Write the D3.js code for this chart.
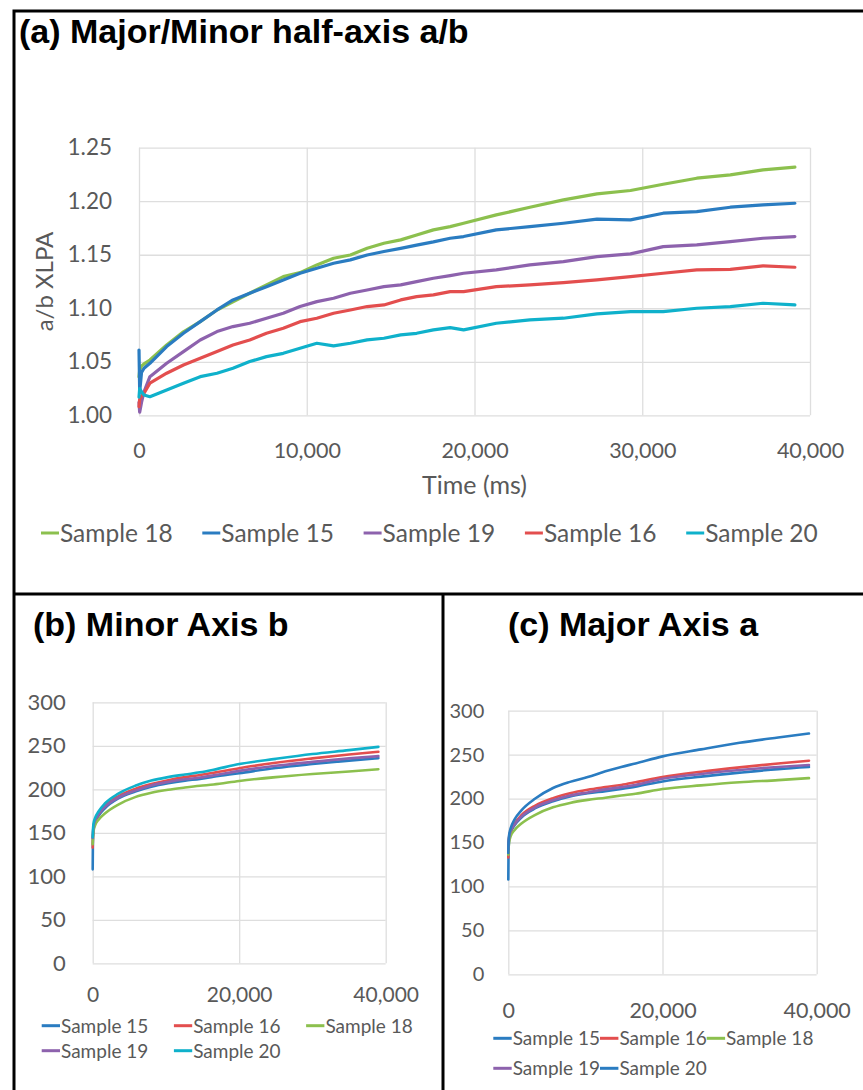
<!DOCTYPE html>
<html><head><meta charset="utf-8">
<script src="https://cdn.jsdelivr.net/npm/d3@7"></script>
<style>
body{margin:0;background:#fff;}
</style></head>
<body><svg id="chart" width="863" height="1090"></svg>
<script>
// ---------- Panel (a) data: a/b ratio vs time (ms) ----------
const timeA = [0, 40, 150, 300, 650, 1650, 2650, 3650, 4650, 5600, 6600, 7600, 8600, 9600, 10600, 11600, 12600, 13600, 14600, 15600, 16550, 17550, 18550, 19350, 21300, 23300, 25300, 27300, 29300, 31250, 33250, 35250, 37200, 39100];
const abSample18 = [1.036, 1.042, 1.046, 1.048, 1.0517, 1.0657, 1.078, 1.0875, 1.0984, 1.106, 1.114, 1.1218, 1.1296, 1.1333, 1.1405, 1.1467, 1.1498, 1.156, 1.1607, 1.1639, 1.1685, 1.1732, 1.1763, 1.1794, 1.1872, 1.1944, 1.2012, 1.2069, 1.21, 1.2159, 1.2215, 1.2246, 1.2293, 1.2318];
const abSample15 = [1.061, 1.022, 1.04, 1.044, 1.0486, 1.0642, 1.0766, 1.0875, 1.0984, 1.1078, 1.114, 1.1202, 1.1265, 1.1327, 1.1374, 1.142, 1.1452, 1.1498, 1.153, 1.156, 1.159, 1.162, 1.1654, 1.167, 1.1732, 1.1763, 1.1794, 1.1832, 1.1826, 1.1888, 1.1903, 1.1944, 1.1966, 1.1981];
const abSample19 = [1.012, 1.003, 1.012, 1.022, 1.0361, 1.0486, 1.0595, 1.0704, 1.0782, 1.0829, 1.086, 1.0907, 1.0953, 1.1016, 1.1062, 1.1093, 1.114, 1.1171, 1.1202, 1.1218, 1.1249, 1.128, 1.1305, 1.1327, 1.1358, 1.1405, 1.1436, 1.1483, 1.1508, 1.1576, 1.1592, 1.1623, 1.1654, 1.167];
const abSample16 = [1.008, 1.015, 1.018, 1.0206, 1.03, 1.0393, 1.047, 1.0533, 1.0595, 1.0657, 1.0704, 1.0766, 1.0813, 1.0875, 1.0907, 1.0953, 1.0984, 1.1016, 1.1031, 1.1078, 1.1109, 1.1125, 1.1156, 1.1156, 1.1202, 1.1218, 1.124, 1.1265, 1.1296, 1.1327, 1.1358, 1.1364, 1.1396, 1.1383];
const abSample20 = [1.017, 1.025, 1.022, 1.019, 1.0174, 1.0237, 1.0299, 1.0361, 1.0393, 1.0439, 1.0502, 1.0548, 1.0579, 1.0626, 1.0673, 1.0648, 1.0673, 1.0704, 1.072, 1.0751, 1.0766, 1.0798, 1.0819, 1.0798, 1.086, 1.0891, 1.0907, 1.0947, 1.0969, 1.0969, 1.1, 1.1016, 1.1047, 1.1031];
const yTicksA = [1.00, 1.05, 1.10, 1.15, 1.20, 1.25];
const xTicksA = [0, 10000, 20000, 30000, 40000];

// ---------- Panel (b) data: minor axis b ----------
const timeBC = [0, 30, 100, 300, 800, 1700, 3500, 5800, 8000, 10300, 12600, 14650, 16500, 20000, 25000, 30000, 35000, 39000];
const bSample15 = [108, 140, 152, 161, 169.5, 178.5, 189.5, 197.5, 203, 207, 210, 212, 214.5, 218.5, 224.5, 229, 233, 235.8];
const bSample16 = [133, 145, 155, 163, 171.5, 181, 192, 200.5, 206, 210.5, 214, 216.5, 219, 224.3, 230.5, 235.5, 240, 243.1];
const bSample18 = [137, 143, 151, 158, 165, 172.5, 182.5, 191, 196, 199.5, 202, 204, 205.5, 209.6, 214, 217.5, 220.5, 223];
const bSample19 = [144, 149, 157, 164, 171, 180, 190.5, 198.5, 204.5, 208.5, 211.5, 213.5, 216, 221.2, 227, 231.5, 235.5, 238.1];
const bSample20 = [145, 152, 160, 166.5, 174.5, 184, 195, 204, 210, 214, 217, 219.5, 222.5, 229, 235, 240.5, 245, 248.8];

// ---------- Panel (c) data: major axis a ----------
const cSample15 = [108, 140, 152, 161, 169.5, 178.5, 189, 197, 202.5, 206, 208.5, 211, 213.5, 219.5, 225, 229.5, 233.5, 235.9];
const cSample16 = [133, 145, 155, 163, 171.5, 181, 192, 200.5, 206, 210, 213, 215.5, 218.5, 224.5, 230.5, 235.5, 240, 243.1];
const cSample18 = [136, 142, 150, 157, 164, 171.5, 181.5, 190, 195, 198.5, 201, 203.5, 205.5, 210.8, 215, 218.5, 221, 223.3];
const cSample19 = [142, 148, 156, 163, 170.5, 179.5, 190, 198, 203.5, 207, 210.5, 213, 215.5, 222.5, 228, 232.5, 236, 238.2];
const cSample20 = [138, 150, 158, 166, 176, 186.5, 200, 212, 219, 224.5, 231, 236, 240, 248, 256, 263.5, 269.5, 274];
const yTicksBC = [0, 50, 100, 150, 200, 250, 300];
const xTicksBC = [0, 20000, 40000];

// ---------- colours ----------
const colGreen = "#8cc04e", colBlue = "#2a7cc1", colPurple = "#8d62ad", colRed = "#e34e4e", colCyan = "#0fb1cb";

const svg = d3.select("#chart");
svg.append("rect").attr("width", 863).attr("height", 1090).attr("fill", "#fff");

const TXT = "#595959";
const FONT = "Lato, 'Open Sans', sans-serif";

function panel(cfg) {
  const x = d3.scaleLinear().domain([0, 40000]).range([cfg.x0, cfg.x1]);
  const y = d3.scaleLinear().domain(cfg.yDomain).range([cfg.yb, cfg.yt]);
  const g = svg.append("g");
  // gridlines
  g.append("g").attr("transform", `translate(0,${cfg.yb})`)
    .call(d3.axisBottom(x).tickValues(cfg.xTicks).tickSize(-(cfg.yb - cfg.yt)).tickFormat(""))
    .call(s => { s.select(".domain").remove(); s.selectAll("line").attr("stroke", "#dedede").attr("stroke-width", 1.3); });
  g.append("g").attr("transform", `translate(${cfg.x0},0)`)
    .call(d3.axisLeft(y).tickValues(cfg.yTicks).tickSize(-(cfg.x1 - cfg.x0)).tickFormat(""))
    .call(s => { s.select(".domain").remove(); s.selectAll("line").attr("stroke", "#dedede").attr("stroke-width", 1.3); });
  // series lines
  const line = d3.line().x((d, i) => x(cfg.time[i])).y(d => y(d)).curve(cfg.curve);
  cfg.series.forEach(s => {
    g.append("path").datum(s.values).attr("d", line)
      .attr("fill", "none").attr("stroke", s.color).attr("stroke-width", cfg.lw)
      .attr("stroke-linejoin", "round").attr("stroke-linecap", "round");
  });
  // tick labels
  g.append("g").attr("transform", `translate(${cfg.x0},0)`)
    .call(d3.axisLeft(y).tickValues(cfg.yTicks).tickSize(0).tickPadding(cfg.yPad).tickFormat(cfg.yFmt))
    .call(s => { s.select(".domain").remove(); s.attr("font-family", FONT).attr("font-size", cfg.yFont); s.selectAll("text").attr("fill", TXT); });
  g.append("g").attr("transform", `translate(0,${cfg.yb})`)
    .call(d3.axisBottom(x).tickValues(cfg.xTicks).tickSize(0).tickPadding(cfg.xPad).tickFormat(d3.format(",")))
    .call(s => { s.select(".domain").remove(); s.attr("font-family", FONT).attr("font-size", cfg.xFont); s.selectAll("text").attr("fill", TXT); });
  // legend
  const lg = g.append("g");
  cfg.series.forEach((s, i) => {
    const col = i % cfg.legCols, row = Math.floor(i / cfg.legCols);
    const lx = cfg.legX + col * cfg.legDX, ly = cfg.legY + row * cfg.legDY;
    lg.append("line").attr("x1", lx).attr("x2", lx + cfg.legLine).attr("y1", ly).attr("y2", ly)
      .attr("stroke", s.color).attr("stroke-width", 3);
    lg.append("text").attr("x", lx + cfg.legLine + 1).attr("y", ly).attr("dy", "0.36em")
      .attr("font-family", FONT).attr("font-size", cfg.legFont).attr("fill", TXT).text(s.name);
  });
  return { x, y, g };
}

// Panel (a)
const pa = panel({
  x0: 139, x1: 810, yb: 415.3, yt: 147.7, yDomain: [1.0, 1.25],
  xTicks: xTicksA, yTicks: yTicksA, yFmt: d3.format(".2f"),
  time: timeA, curve: d3.curveLinear, lw: 3.2,
  yPad: 27, xPad: 27, yFont: 22.5, xFont: 21.5,
  series: [
    { name: "Sample 18", values: abSample18, color: colGreen },
    { name: "Sample 15", values: abSample15, color: colBlue },
    { name: "Sample 19", values: abSample19, color: colPurple },
    { name: "Sample 16", values: abSample16, color: colRed },
    { name: "Sample 20", values: abSample20, color: colCyan }
  ],
  legCols: 5, legX: 41, legDX: 161.3, legY: 533, legDY: 0, legLine: 18, legFont: 24.5
});
pa.g.append("text").attr("x", 474.5).attr("y", 494).attr("text-anchor", "middle")
  .attr("font-family", FONT).attr("font-size", 25).attr("fill", TXT).text("Time (ms)");
pa.g.append("text").attr("transform", "translate(53,281.5) rotate(-90)").attr("text-anchor", "middle")
  .attr("font-family", FONT).attr("font-size", 24).attr("fill", TXT).text("a/b XLPA");

// Panel (b)
panel({
  x0: 92.7, x1: 385.7, yb: 963.3, yt: 702.3, yDomain: [0, 300],
  xTicks: xTicksBC, yTicks: yTicksBC, yFmt: d3.format("d"),
  time: timeBC, curve: d3.curveMonotoneX, lw: 2.6,
  yPad: 27, xPad: 24, yFont: 22, xFont: 21,
  series: [
    { name: "Sample 15", values: bSample15, color: colBlue },
    { name: "Sample 16", values: bSample16, color: colRed },
    { name: "Sample 18", values: bSample18, color: colGreen },
    { name: "Sample 19", values: bSample19, color: colPurple },
    { name: "Sample 20", values: bSample20, color: colCyan }
  ],
  legCols: 3, legX: 41.7, legDX: 132.2, legY: 1025.7, legDY: 25, legLine: 18.3, legFont: 19
});

// Panel (c)
panel({
  x0: 508.3, x1: 816.7, yb: 974.3, yt: 710.7, yDomain: [0, 300],
  xTicks: xTicksBC, yTicks: yTicksBC, yFmt: d3.format("d"),
  time: timeBC, curve: d3.curveMonotoneX, lw: 2.6,
  yPad: 24, xPad: 28, yFont: 20, xFont: 21.5,
  series: [
    { name: "Sample 15", values: cSample15, color: colBlue },
    { name: "Sample 16", values: cSample16, color: colRed },
    { name: "Sample 18", values: cSample18, color: colGreen },
    { name: "Sample 19", values: cSample19, color: colPurple },
    { name: "Sample 20", values: cSample20, color: colBlue }
  ],
  legCols: 3, legX: 493.3, legDX: 106.7, legY: 1038.3, legDY: 30, legLine: 18.4, legFont: 19
});

// Titles
const TFONT = "'Liberation Sans', Arial, sans-serif";
svg.append("text").attr("x", 19).attr("y", 43).attr("font-family", TFONT).attr("font-weight", "bold")
  .attr("font-size", 34).attr("fill", "#000").text("(a) Major/Minor half-axis a/b");
svg.append("text").attr("x", 33).attr("y", 636).attr("font-family", TFONT).attr("font-weight", "bold")
  .attr("font-size", 34).attr("fill", "#000").text("(b) Minor Axis b");
svg.append("text").attr("x", 508).attr("y", 636).attr("font-family", TFONT).attr("font-weight", "bold")
  .attr("font-size", 34).attr("fill", "#000").text("(c) Major Axis a");

// Panel borders
const B = svg.append("g").attr("fill", "none").attr("stroke", "#000").attr("stroke-width", 3);
B.append("path").attr("d", "M 870 11 L 14 11 L 14 1095");
B.append("path").attr("d", "M 14 594 L 870 594");
B.append("path").attr("d", "M 443 594 L 443 1095");
</script>
</body></html>
